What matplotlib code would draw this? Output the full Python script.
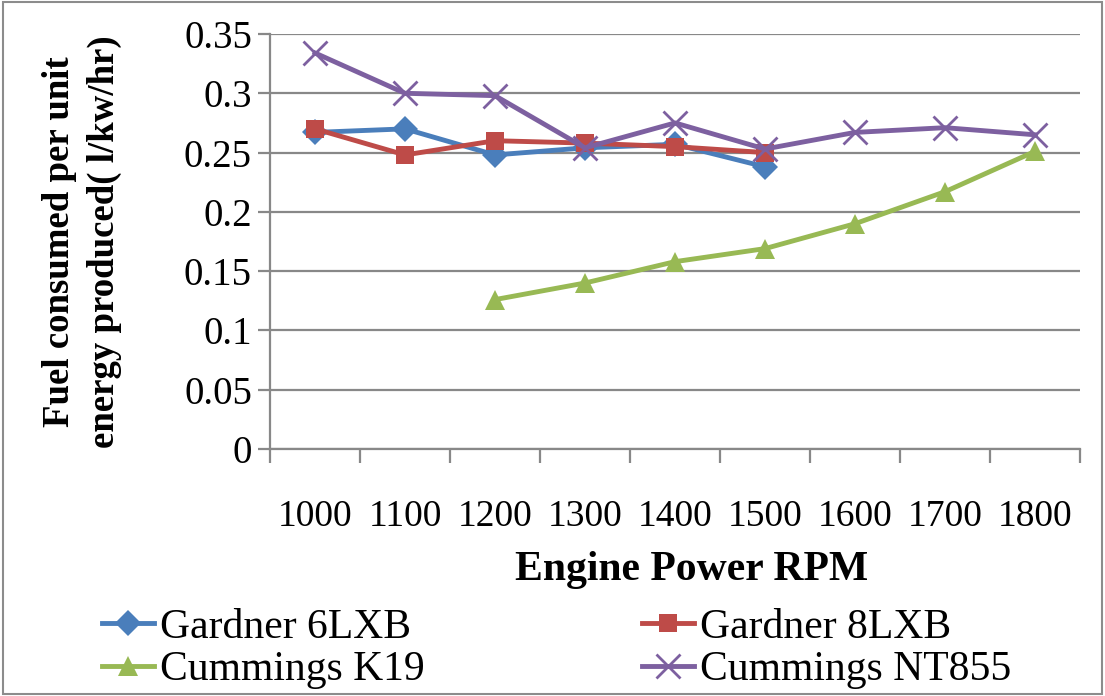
import matplotlib.pyplot as plt
import matplotlib.patches as patches
import numpy as np

rpm = ['1000', '1100', '1200', '1300', '1400', '1500', '1600', '1700', '1800']
gardner_6lxb = [0.267, 0.270, 0.248, 0.254, 0.257, 0.238, None, None, None]
gardner_8lxb = [0.270, 0.248, 0.260, 0.258, 0.255, 0.250, None, None, None]
cummings_k19 = [None, None, 0.126, 0.140, 0.158, 0.169, 0.190, 0.217, 0.251]
cummings_nt855 = [0.334, 0.300, 0.298, 0.254, 0.275, 0.253, 0.267, 0.271, 0.265]
y_ticks = [0, 0.05, 0.1, 0.15, 0.2, 0.25, 0.3, 0.35]
y_labels = ['0', '0.05', '0.1', '0.15', '0.2', '0.25', '0.3', '0.35']

plt.rcParams['font.family'] = ['Liberation Serif', 'DejaVu Serif']

fig = plt.figure(figsize=(11.05, 6.96), dpi=100)
ax = fig.add_axes([270 / 1105, 1 - 449 / 696, 810 / 1105, 415 / 696])

grid_c = '#888888'
x = np.arange(len(rpm))


def series(vals):
    xs = [i for i, v in enumerate(vals) if v is not None]
    ys = [v for v in vals if v is not None]
    return xs, ys


styles = [
    ('Gardner 6LXB', gardner_6lxb, '#4A7EBB', 'D', 13),
    ('Gardner 8LXB', gardner_8lxb, '#BE4B48', 's', 13),
    ('Cummings K19', cummings_k19, '#98B954', '^', 14),
    ('Cummings NT855', cummings_nt855, '#7D60A0', 'x', 17),
]
lines = {}
for name, vals, col, mk, ms in styles:
    xs, ys = series(vals)
    lines[name], = ax.plot(xs, ys, color=col, lw=3.5, marker=mk, ms=ms,
                           mew=2 if mk == 'x' else 0, mfc=col, mec=col,
                           label=name, solid_joinstyle='round')

ax.set_xlim(-0.5, len(rpm) - 0.5)
ax.set_ylim(0, 0.35)
ax.set_yticks(y_ticks)
ax.set_yticklabels(y_labels)
ax.yaxis.grid(True, color=grid_c, lw=1.6)
ax.set_axisbelow(True)

ax.set_xticks(x)
ax.set_xticklabels(rpm)
ax.set_xticks(np.arange(-0.5, len(rpm)), minor=True)
ax.tick_params(axis='x', which='major', length=0, pad=36, labelsize=27)
ax.tick_params(axis='x', which='minor', length=10, width=1.6, color=grid_c, direction='out')
ax.tick_params(axis='y', length=9, width=1.6, color=grid_c, pad=4, labelsize=28)

for s in ['top', 'right']:
    ax.spines[s].set_visible(False)
ax.spines['left'].set_color(grid_c)
ax.spines['left'].set_linewidth(1.6)
ax.spines['bottom'].set_color(grid_c)
ax.spines['bottom'].set_linewidth(1.6)

ax.set_xlabel('Engine Power RPM', fontsize=30, fontweight='bold')
ax.xaxis.set_label_coords(0.52, -0.245)
ax.set_ylabel('Fuel consumed per unit\nenergy produced( l/kw/hr)', fontsize=26.5,
              fontweight='bold', linespacing=1.35, multialignment='center')
ax.yaxis.set_label_coords(-0.232, 0.5)
ax.yaxis.label.set_va('center')

order = ['Gardner 6LXB', 'Cummings K19', 'Gardner 8LXB', 'Cummings NT855']
fig.legend([lines[n] for n in order], order, loc='upper left',
           bbox_to_anchor=(102 / 1105, 1 - 608 / 696), ncol=2,
           frameon=False, fontsize=30, labelspacing=0.1, handlelength=1.25,
           handletextpad=0.15, columnspacing=5.2, borderaxespad=0, borderpad=0)

fig.patches.append(patches.Rectangle((0.003, 0.003), 0.994, 0.994, transform=fig.transFigure,
                                     fill=False, edgecolor='#8c8c8c', lw=1.5))

fig.savefig('out.png', dpi=100)
